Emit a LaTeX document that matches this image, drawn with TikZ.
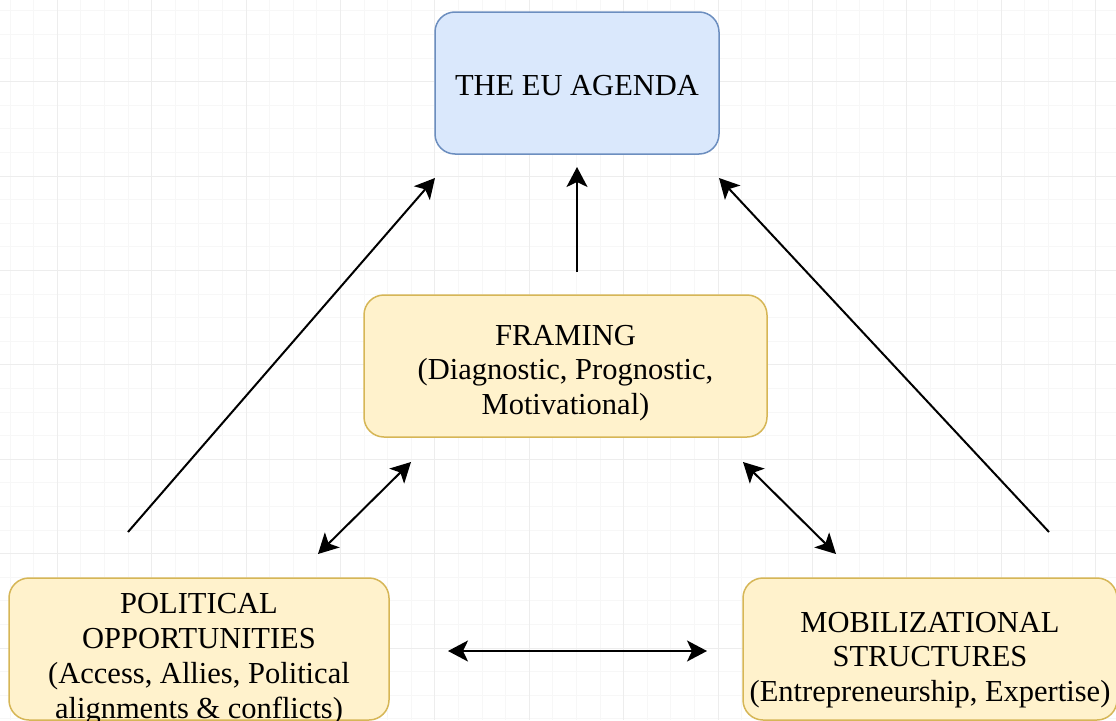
\documentclass[tikz,border=0pt]{standalone}
\usepackage{fontspec}
\setmainfont{Liberation Serif}
\usetikzlibrary{arrows.meta}
\definecolor{bluefill}{HTML}{DAE8FC}
\definecolor{blueline}{HTML}{6C8EBF}
\definecolor{yelfill}{HTML}{FFF2CC}
\definecolor{yelline}{HTML}{D6B656}
\definecolor{gridminor}{HTML}{F7F7F7}
\definecolor{gridmajor}{HTML}{EDEDED}
\tikzset{
  box/.style={draw, line width=1.5pt, rounded corners=20pt, inner sep=0pt},
  bluebox/.style={box, fill=bluefill, draw=blueline},
  yelbox/.style={box, fill=yelfill, draw=yelline},
  txt/.style={align=center, font=\fontsize{30.5}{34.8}\selectfont, inner sep=0pt},
  tip/.style={Stealth[length=20pt,width=21pt,inset=5pt]},
  conn/.style={line width=2pt, black, -{Stealth[length=20pt,width=21pt,inset=5pt]}},
  dconn/.style={line width=2pt, black,
    {Stealth[length=20pt,width=21pt,inset=5pt]}-{Stealth[length=20pt,width=21pt,inset=5pt]}}
}
\begin{document}
\begin{tikzpicture}[x=1pt,y=-1pt]
\useasboundingbox (0,0) rectangle (1116,720);
\fill[white] (0,0) rectangle (1116,720);
% grid
\foreach \i in {0,...,47} {
  \pgfmathsetmacro{\gx}{10.1+23.6*\i}
  \draw[gridminor, line width=1pt] (\gx,0) -- (\gx,720);
}
\foreach \i in {0,...,30} {
  \pgfmathsetmacro{\gy}{10.9+23.6*\i}
  \draw[gridminor, line width=1pt] (0,\gy) -- (1116,\gy);
}
\foreach \i in {0,...,11} {
  \pgfmathsetmacro{\gx}{57.3+94.4*\i}
  \draw[gridmajor, line width=1pt] (\gx,0) -- (\gx,720);
}
\foreach \i in {0,...,7} {
  \pgfmathsetmacro{\gy}{81.7+94.4*\i}
  \draw[gridmajor, line width=1pt] (0,\gy) -- (1116,\gy);
}
% boxes
\node[bluebox, minimum width=284pt, minimum height=142pt] (eu) at (577,83) {};
\node[yelbox, minimum width=403pt, minimum height=142pt] (fr) at (565.5,366) {};
\node[yelbox, minimum width=380pt, minimum height=142pt] (po) at (199,649) {};
\node[yelbox, minimum width=374pt, minimum height=142pt] (mo) at (930,649) {};
% texts
\node[txt] (eut) at ([yshift=-3pt]eu.center) {THE EU AGENDA};
\node[txt] (frt) at ([yshift=-7pt]fr.center) {FRAMING\\(Diagnostic, Prognostic,\\Motivational)};
\node[txt] (pot) at ([yshift=-10pt]po.center) {POLITICAL\\OPPORTUNITIES\\(Access, Allies, Political\\alignments \& conflicts)};
\node[txt] (mot) at ([yshift=-11pt]mo.center) {MOBILIZATIONAL\\STRUCTURES\\(Entrepreneurship, Expertise)};
% connector end points
\coordinate (poUp) at (128,532);
\coordinate (euL) at (435,178);
\coordinate (frUp) at (577,272);
\coordinate (euB) at (577,167);
\coordinate (moUp) at (1049,532);
\coordinate (euR) at (719,178);
\coordinate (poR) at (318,554);
\coordinate (frL) at (411,462);
\coordinate (frR) at (743,462);
\coordinate (moL) at (836,554);
\coordinate (poE) at (448,651);
\coordinate (moW) at (707,651);
% connectors
\draw[conn] (poUp) -- (euL);
\draw[conn] (frUp) -- (euB);
\draw[conn] (moUp) -- (euR);
\draw[dconn] (poR) -- (frL);
\draw[dconn] (frR) -- (moL);
\draw[dconn] (poE) -- (moW);
\end{tikzpicture}
\end{document}
